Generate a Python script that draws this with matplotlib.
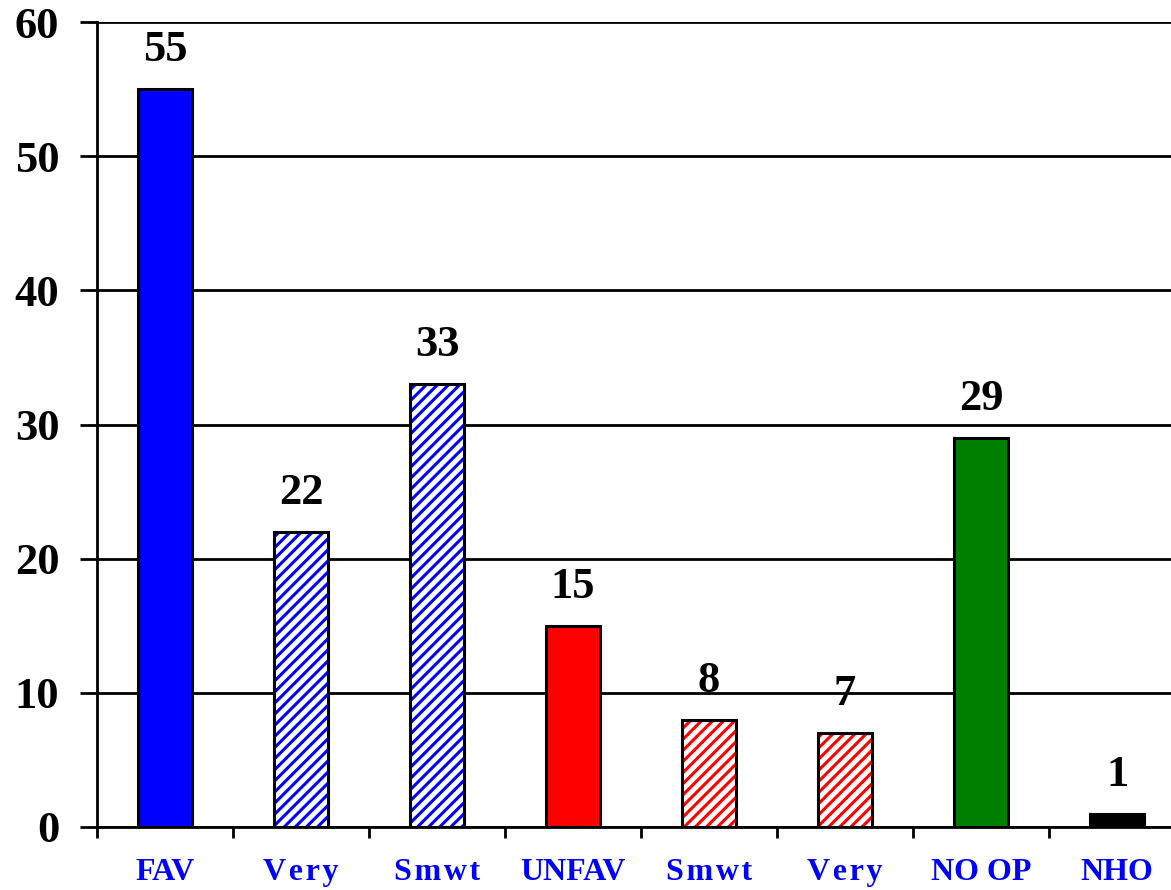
import numpy as np
import matplotlib
matplotlib.use("Agg")
import matplotlib.pyplot as plt

categories = ["FAV", "V\u200ae\u200ar\u200ay", "S\u200am\u200aw\u200at", "UNFAV",
              "S\u200am\u200aw\u200at", "V\u200ae\u200ar\u200ay", "NO OP", "NHO"]
values = [55, 22, 33, 15, 8, 7, 29, 1]
fill_colors = ["#0000FF", "white", "white", "#FF0000", "white", "white", "#008000", "#000000"]
hatch_colors = [None, "#0000FF", "#0000FF", None, "#FF0000", "#FF0000", None, None]
y_ticks = [0, 10, 20, 30, 40, 50, 60]

plt.rcParams["font.family"] = ["Liberation Serif", "DejaVu Serif"]
plt.rcParams["font.weight"] = "bold"
plt.rcParams["hatch.linewidth"] = 2.2

fig = plt.figure(figsize=(11.71, 8.9), dpi=100)
ax = fig.add_axes([97 / 1171, 63 / 890, 1 - 97 / 1171, (827 - 22) / 890])

x = np.arange(len(categories))
width = 0.4

# hatched fills first (no outline), then black outlines on top
for i, (v, fc, hc) in enumerate(zip(values, fill_colors, hatch_colors)):
    if hc is not None:
        ax.bar(x[i], v, width, color="white", edgecolor=hc, hatch="///",
               linewidth=0, zorder=3)
    else:
        ax.bar(x[i], v, width, color=fc, linewidth=0, zorder=3)
ax.bar(x, values, width, fill=False, edgecolor="black", linewidth=2.2, zorder=4)

for xi, v in zip(x, values):
    ax.annotate(str(v), (xi, v), xytext=(0, 20), textcoords="offset points",
                ha="center", va="baseline", fontsize=32, fontweight="bold")

ax.set_xlim(-0.5, (1171 - 97) / 136 - 0.5)
ax.set_ylim(0, 60)
ax.set_yticks(y_ticks)
ax.set_yticklabels([str(t) for t in y_ticks], fontsize=32, fontweight="bold")
ax.yaxis.grid(True, color="black", linewidth=2)
ax.set_axisbelow(True)

ax.set_xticks(x)
ax.set_xticklabels(categories, fontsize=23, fontweight="bold", color="#0000FF")
ax.set_xticks(np.arange(len(categories)) - 0.5, minor=True)
ax.tick_params(axis="x", which="major", length=0, pad=22)
ax.tick_params(axis="x", which="minor", length=8, width=2, direction="out")
ax.tick_params(axis="y", length=12, width=2, direction="out", pad=15)

for s in ["top", "right"]:
    ax.spines[s].set_visible(False)
ax.spines["left"].set_linewidth(2)
ax.spines["bottom"].set_linewidth(2)

fig.savefig("out.png", dpi=100)
